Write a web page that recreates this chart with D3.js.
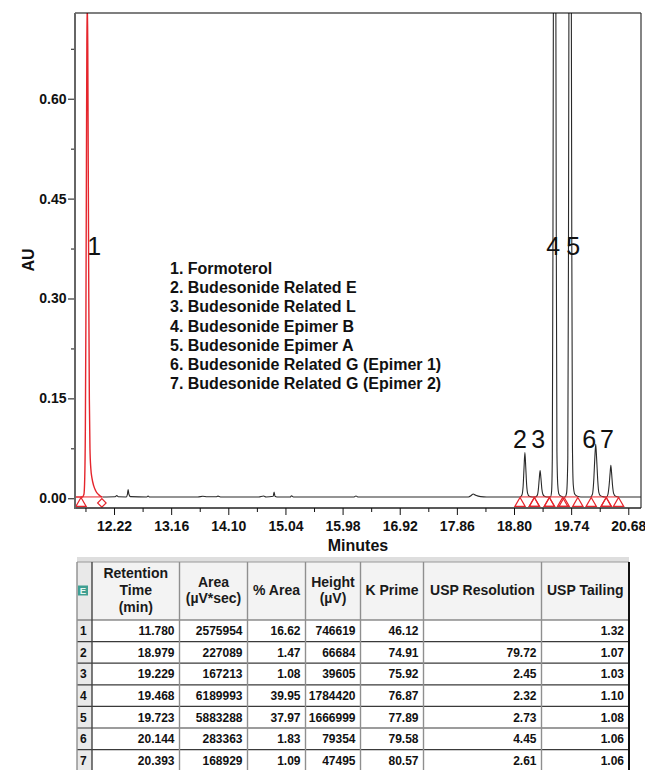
<!DOCTYPE html>
<html>
<head>
<meta charset="utf-8">
<script src="https://cdn.jsdelivr.net/npm/d3@7"></script>
<style>
  html, body { margin: 0; padding: 0; background: #fff; }
  svg { display: block; font-family: "Liberation Sans", Arial, Helvetica, sans-serif; }
</style>
</head>
<body>
<svg id="chart" width="645" height="770"></svg>
<script>
// ---- Peak table ----
const peakIds = [1, 2, 3, 4, 5, 6, 7];
const peakNames = [
  "Formoterol",
  "Budesonide Related E",
  "Budesonide Related L",
  "Budesonide Epimer B",
  "Budesonide Epimer A",
  "Budesonide Related G (Epimer 1)",
  "Budesonide Related G (Epimer 2)"
];
const retentionTime = [11.780, 18.979, 19.229, 19.468, 19.723, 20.144, 20.393];
const peakArea = [2575954, 227089, 167213, 6189993, 5883288, 283363, 168929];
const pctArea = [16.62, 1.47, 1.08, 39.95, 37.97, 1.83, 1.09];
const peakHeight = [746619, 66684, 39605, 1784420, 1666999, 79354, 47495];   // µV
const kPrime = [46.12, 74.91, 75.92, 76.87, 77.89, 79.58, 80.57];
const uspResolution = [null, 79.72, 2.45, 2.32, 2.73, 4.45, 2.61];
const uspTailing = [1.32, 1.07, 1.03, 1.10, 1.08, 1.06, 1.06];

// integration start / end of each peak (minutes)
const peakStart = [11.677, 18.899, 19.135, 19.382, 19.625, 20.070, 20.317];
const peakEnd   = [12.020, 19.135, 19.382, 19.600, 19.850, 20.317, 20.520];

// detector baseline level (AU)
const baselineAU = 0.002;

// detector trace (minutes, AU) between the peak apexes
const traceShape = [
  [11.578, 0.002], [11.700, 0.002], [11.725, 0.006], [11.738, 0.030], [11.748, 0.100],
  [11.757, 0.260], [11.766, 0.500], [11.773, 0.680],
  [11.788, 0.680], [11.796, 0.500], [11.805, 0.300], [11.814, 0.150], [11.824, 0.075],
  [11.838, 0.045], [11.858, 0.030], [11.885, 0.019], [11.920, 0.011], [11.960, 0.006],
  [12.000, 0.003], [12.030, 0.002],
  [12.100, 0.002], [12.240, 0.0022], [12.265, 0.004], [12.290, 0.0022], [12.420, 0.002],
  [12.440, 0.006], [12.452, 0.013], [12.465, 0.006], [12.490, 0.0025], [12.760, 0.002],
  [12.780, 0.0035], [12.800, 0.002], [13.600, 0.002], [13.680, 0.003], [13.750, 0.0022],
  [13.900, 0.0022], [13.930, 0.0032], [13.970, 0.002], [14.600, 0.002], [14.680, 0.0035],
  [14.720, 0.002], [14.838, 0.003], [14.853, 0.0095], [14.868, 0.003], [14.900, 0.002],
  [15.120, 0.002], [15.140, 0.0038], [15.170, 0.002], [16.170, 0.002], [16.200, 0.0035],
  [16.230, 0.002], [18.050, 0.002], [18.100, 0.0045], [18.128, 0.0065], [18.170, 0.0045],
  [18.250, 0.0025], [18.350, 0.002], [18.850, 0.002],
  [18.900, 0.002], [18.930, 0.005], [18.950, 0.018], [18.965, 0.046],
  [18.993, 0.047], [19.008, 0.020], [19.025, 0.007], [19.050, 0.003], [19.100, 0.002],
  [19.150, 0.002], [19.180, 0.004], [19.200, 0.013], [19.215, 0.029],
  [19.243, 0.030], [19.258, 0.014], [19.275, 0.006], [19.300, 0.003], [19.340, 0.002],
  [19.400, 0.002], [19.418, 0.010], [19.430, 0.060], [19.441, 0.400], [19.453, 1.050],
  [19.483, 1.050], [19.495, 0.400], [19.506, 0.070], [19.520, 0.020], [19.540, 0.006],
  [19.575, 0.003], [19.610, 0.002],
  [19.640, 0.002], [19.665, 0.008], [19.685, 0.060], [19.696, 0.380], [19.708, 1.000],
  [19.738, 1.000], [19.750, 0.400], [19.761, 0.080], [19.775, 0.020], [19.800, 0.006],
  [19.840, 0.003], [19.900, 0.002],
  [20.060, 0.002], [20.090, 0.006], [20.110, 0.024], [20.128, 0.058],
  [20.160, 0.058], [20.178, 0.026], [20.195, 0.009], [20.220, 0.004], [20.260, 0.0025],
  [20.300, 0.002],
  [20.320, 0.002], [20.345, 0.006], [20.365, 0.020], [20.380, 0.037],
  [20.406, 0.037], [20.420, 0.020], [20.440, 0.007], [20.470, 0.003], [20.520, 0.002],
  [20.889, 0.002]
];

// ---- Axes ----
const yTicks = [0.00, 0.15, 0.30, 0.45, 0.60];
const yMinorTicks = [0.075, 0.225, 0.375, 0.525, 0.675];
const xTickLabels = ["12.22", "13.16", "14.10", "15.04", "15.98", "16.92", "17.86", "18.80", "19.74", "20.68"];
const xMinorTicks = [11.75, 12.69, 13.63, 14.57, 15.51, 16.45, 17.39, 18.33, 19.27, 20.21];

// ---- Layout ----
const plot = { left: 75, right: 641, top: 13, bottom: 508 };
const peakLabelLayout = [
  { dx: 7, y: 255 }, { dx: -5, y: 448 }, { dx: -2, y: 448 }, { dx: -1.5, y: 255 },
  { dx: 3, y: 255 }, { dx: -6.5, y: 448 }, { dx: -4, y: 448 }
];
const RED = "#e5252c";
const INK = "#111";

const svg = d3.select("#chart");

const x = d3.scaleLinear().domain([11.578, 20.889]).range([plot.left, plot.right]);
const y = d3.scaleLinear().domain([-0.0146, 0.7287]).range([plot.bottom, plot.top]);

// trace = hand-read shape + apex heights from the peak table
const apexPoints = retentionTime.map((t, i) => [t, baselineAU + peakHeight[i] / 1e6]);
const trace = traceShape.concat(apexPoints).sort((a, b) => a[0] - b[0]);

svg.append("defs").append("clipPath").attr("id", "plotClip")
  .append("rect")
  .attr("x", plot.left).attr("y", plot.top)
  .attr("width", plot.right - plot.left).attr("height", plot.bottom - plot.top);

const line = d3.line().x(d => x(d[0])).y(d => y(d[1])).curve(d3.curveMonotoneX);

const plotG = svg.append("g").attr("clip-path", "url(#plotClip)");

// main trace (black) after the first peak
plotG.append("path")
  .datum(trace.filter(d => d[0] >= peakEnd[0]))
  .attr("d", line)
  .attr("fill", "none").attr("stroke", "#2a2a2a").attr("stroke-width", 1.1);

// integrated baselines
peakStart.forEach((s, i) => {
  plotG.append("line")
    .attr("x1", x(s)).attr("x2", x(peakEnd[i]))
    .attr("y1", y(baselineAU)).attr("y2", y(baselineAU))
    .attr("stroke", RED).attr("stroke-width", 1);
});

// first peak highlighted in red
plotG.append("path")
  .datum(trace.filter(d => d[0] <= peakEnd[0] + 0.011))
  .attr("d", line)
  .attr("fill", "none").attr("stroke", RED).attr("stroke-width", 1.4);

// start / end markers
const triangle = d3.symbol().type(d3.symbolTriangle).size(46);
const markerY = y(baselineAU) + 6.5;
const markerTimes = [];
peakStart.forEach((s, i) => { markerTimes.push({ t: s, kind: "start", i }); markerTimes.push({ t: peakEnd[i], kind: "end", i }); });
markerTimes.forEach(m => {
  if (m.i === 0 && m.kind === "end") {
    svg.append("path")
      .attr("d", d3.symbol().type(d3.symbolSquare).size(36)())
      .attr("transform", `translate(${x(m.t)},${markerY - 0.5}) rotate(45)`)
      .attr("fill", "none").attr("stroke", RED).attr("stroke-width", 1.2);
  } else {
    svg.append("path")
      .attr("d", triangle())
      .attr("transform", `translate(${x(m.t)},${markerY})`)
      .attr("fill", "none").attr("stroke", RED).attr("stroke-width", 1.2);
  }
});

// frame
svg.append("line").attr("x1", plot.left).attr("x2", plot.right).attr("y1", plot.top).attr("y2", plot.top)
  .attr("stroke", "#000").attr("stroke-width", 1.2);
svg.append("line").attr("x1", plot.right).attr("x2", plot.right).attr("y1", plot.top).attr("y2", plot.bottom)
  .attr("stroke", "#333").attr("stroke-width", 1.2);
svg.append("line").attr("x1", plot.left).attr("x2", plot.right).attr("y1", plot.bottom).attr("y2", plot.bottom)
  .attr("stroke", "#222").attr("stroke-width", 1.5);
svg.append("line").attr("x1", plot.left).attr("x2", plot.left).attr("y1", plot.top).attr("y2", plot.bottom + 1)
  .attr("stroke", "#666").attr("stroke-width", 2);

// y axis
const yAxis = svg.append("g").attr("transform", `translate(${plot.left - 1},0)`)
  .call(d3.axisLeft(y).tickValues(yTicks).tickFormat(d3.format(".2f")).tickSize(6).tickPadding(1.5));
yAxis.select(".domain").remove();
yAxis.selectAll("text").attr("font-size", 14).attr("font-weight", "bold").attr("fill", INK)
  .attr("font-family", '"Liberation Sans", Arial, sans-serif');
yAxis.selectAll("line").attr("stroke", "#111");
const yMinor = svg.append("g").attr("transform", `translate(${plot.left - 1},0)`)
  .call(d3.axisLeft(y).tickValues(yMinorTicks).tickFormat("").tickSize(3));
yMinor.select(".domain").remove();
yMinor.selectAll("line").attr("stroke", "#111");

// x axis
const xAxis = svg.append("g").attr("transform", `translate(0,${plot.bottom})`)
  .call(d3.axisBottom(x).tickValues(xTickLabels.map(Number)).tickFormat((d, i) => xTickLabels[i])
    .tickSize(7).tickPadding(6));
xAxis.select(".domain").remove();
xAxis.selectAll("text").attr("font-size", 14).attr("font-weight", "bold").attr("fill", INK)
  .attr("font-family", '"Liberation Sans", Arial, sans-serif');
xAxis.selectAll("line").attr("stroke", "#111");
const xMinor = svg.append("g").attr("transform", `translate(0,${plot.bottom})`)
  .call(d3.axisBottom(x).tickValues(xMinorTicks).tickFormat("").tickSize(4));
xMinor.select(".domain").remove();
xMinor.selectAll("line").attr("stroke", "#111");

// axis titles
svg.append("text").attr("x", 358).attr("y", 550.5).attr("text-anchor", "middle")
  .attr("font-size", 16).attr("font-weight", "bold").attr("fill", INK).text("Minutes");
svg.append("text").attr("transform", "translate(34,260) rotate(-90)").attr("text-anchor", "middle")
  .attr("font-size", 16).attr("font-weight", "bold").attr("fill", INK).text("AU");

// peak numbers
peakIds.forEach((id, i) => {
  svg.append("text")
    .attr("x", x(retentionTime[i]) + peakLabelLayout[i].dx)
    .attr("y", peakLabelLayout[i].y)
    .attr("text-anchor", "middle")
    .attr("font-size", 25).attr("fill", INK)
    .text(id);
});

// compound list
const legend = svg.append("g").attr("font-size", 16).attr("font-weight", "bold").attr("fill", INK);
peakNames.forEach((name, i) => {
  legend.append("text").attr("x", 170).attr("y", 274 + i * 19.17).text(`${peakIds[i]}. ${name}`);
});

// ---- Results table ----
const colX = [77, 92, 179.5, 247.5, 305.5, 360.5, 423.5, 541.5, 629];
const headTop = 562, headBottom = 620, rowH = 21.6;
const headers = [
  [], ["Retention", "Time", "(min)"], ["Area", "(µV*sec)"], ["% Area"], ["Height", "(µV)"],
  ["K Prime"], ["USP Resolution"], ["USP Tailing"]
];
const fmtInt = d3.format("d");
const rows = peakIds.map((id, i) => [
  String(id),
  retentionTime[i].toFixed(3),
  fmtInt(peakArea[i]),
  pctArea[i].toFixed(2),
  fmtInt(peakHeight[i]),
  kPrime[i].toFixed(2),
  uspResolution[i] == null ? "" : uspResolution[i].toFixed(2),
  uspTailing[i].toFixed(2)
]);
const tableBottom = headBottom + rowH * rows.length;
const tbl = svg.append("g");

tbl.append("rect").attr("x", colX[0]).attr("y", 557).attr("width", colX[8] - colX[0]).attr("height", 5)
  .attr("fill", "#dedede");
tbl.append("rect").attr("x", colX[0]).attr("y", headTop).attr("width", colX[8] - colX[0])
  .attr("height", headBottom - headTop).attr("fill", "#f3f3f3");
tbl.append("rect").attr("x", colX[0]).attr("y", headTop).attr("width", colX[1] - colX[0])
  .attr("height", tableBottom - headTop).attr("fill", "#e9e9e9");

// corner icon
tbl.append("rect").attr("x", 78).attr("y", 585.5).attr("width", 10).attr("height", 10)
  .attr("fill", "#3f9f92");
tbl.append("text").attr("x", 83).attr("y", 594).attr("text-anchor", "middle")
  .attr("font-size", 9.5).attr("font-weight", "bold").attr("fill", "#e6f6f1").text("E");

// header texts
headers.forEach((lines, c) => {
  if (!lines.length) return;
  const cx = (colX[c] + colX[c + 1]) / 2;
  const mid = 590;
  lines.forEach((t, k) => {
    tbl.append("text").attr("x", cx).attr("y", mid + (k - (lines.length - 1) / 2) * 16.7)
      .attr("dy", "0.36em").attr("text-anchor", "middle")
      .attr("font-size", 14).attr("font-weight", "bold").attr("fill", "#1a1a1a").text(t);
  });
});

// body cells
rows.forEach((r, ri) => {
  const cy = headBottom + rowH * ri + rowH / 2;
  r.forEach((val, c) => {
    const t = tbl.append("text").attr("y", cy).attr("dy", "0.36em")
      .attr("font-size", 12).attr("font-weight", "bold").attr("fill", "#111").text(val);
    if (c === 0) t.attr("x", colX[0] + 3);
    else t.attr("x", colX[c + 1] - 5).attr("text-anchor", "end");
  });
});

// grid lines
rows.forEach((r, ri) => {
  const yy = headBottom + rowH * ri;
  tbl.append("line").attr("x1", colX[0]).attr("x2", colX[8]).attr("y1", yy).attr("y2", yy)
    .attr("stroke", ri === 0 ? "#555" : "#3a3a3a").attr("stroke-width", 1.2);
});
tbl.append("line").attr("x1", colX[0]).attr("x2", colX[8]).attr("y1", tableBottom).attr("y2", tableBottom)
  .attr("stroke", "#3a3a3a").attr("stroke-width", 1.2);
tbl.append("line").attr("x1", colX[0]).attr("x2", colX[8]).attr("y1", headTop).attr("y2", headTop)
  .attr("stroke", "#9a9a9a").attr("stroke-width", 1);
colX.forEach((cxv, c) => {
  tbl.append("line").attr("x1", cxv).attr("x2", cxv).attr("y1", headTop).attr("y2", tableBottom)
    .attr("stroke", c === 8 ? "#111" : (c === 1 ? "#444" : "#8f8f8f"))
    .attr("stroke-width", c === 8 ? 2 : 1.4);
});
</script>
</body>
</html>
